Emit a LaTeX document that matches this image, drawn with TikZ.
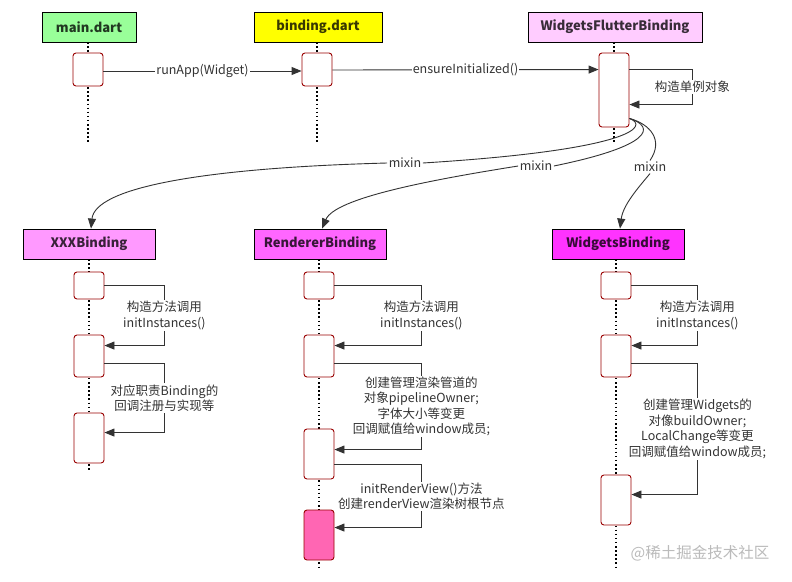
\documentclass[tikz,border=0pt]{standalone}
\usepackage{fontspec}
\setmainfont{Noto Sans CJK SC}
\usetikzlibrary{arrows.meta}
\definecolor{cmain}{HTML}{99FF99}
\definecolor{cbind}{HTML}{FFFF00}
\definecolor{cwfb}{HTML}{FFCCFF}
\definecolor{cxxx}{HTML}{FF99FF}
\definecolor{crend}{HTML}{FF66FF}
\definecolor{cwdg}{HTML}{FF33FF}
\definecolor{actborder}{HTML}{990000}
\definecolor{actpink}{HTML}{FF66B3}
\definecolor{txt}{HTML}{333333}
\definecolor{wm}{HTML}{BBBBBB}
\tikzset{
  hdr/.style={draw=black, line width=0.9pt, minimum height=30pt, inner sep=0pt,
    font=\fontsize{13}{15}\selectfont\bfseries, text=black, text opacity=0.78},
  act/.style={draw=actborder, line width=0.9pt, fill=white, rounded corners=3pt,
    minimum width=30pt, inner sep=0pt},
  life/.style={line width=1.5pt, dash pattern=on 1.5pt off 2.6pt, black},
  msg/.style={draw=txt, line width=0.9pt, -{Triangle[length=10pt,width=8pt]}},
  lab/.style={fill=white, text=txt, inner sep=1pt, align=center,
    font=\fontsize{12.5}{15.5}\selectfont},
  mixlab/.style={fill=white, text=txt, inner sep=1.5pt,
    font=\fontsize{12.5}{15}\selectfont}
}
\begin{document}
\begin{tikzpicture}[x=1pt,y=-1pt]
\useasboundingbox (0,0) rectangle (792,581);
\fill[white] (0,0) rectangle (792,581);

% headers
\node[hdr, fill=cmain, minimum width=94pt] (main) at (89,27) {main.dart};
\node[hdr, fill=cbind, minimum width=128pt] (bind) at (318,27) {binding.dart};
\node[hdr, fill=cwfb, minimum width=174pt] (wfb) at (615,27) {WidgetsFlutterBinding};
\node[hdr, fill=cxxx, minimum width=132pt] (xxx) at (89,244) {XXXBinding};
\node[hdr, fill=crend, minimum width=132pt] (rend) at (320,244) {RendererBinding};
\node[hdr, fill=cwdg, minimum width=132pt] (wdg) at (618,244) {WidgetsBinding};

% lifeline ends
\coordinate (mainend) at (88,143);
\coordinate (bindend) at (317,143);
\coordinate (wfbend) at (614,143);
\coordinate (xxxend) at (89,470);
\coordinate (rendend) at (319,570);
\coordinate (wdgend) at (616,570);
\draw[life] (88,42) -- (mainend);
\draw[life] (317,42) -- (bindend);
\draw[life] (614,42) -- (wfbend);
\draw[life] (89,259) -- (xxxend);
\draw[life] (319,259) -- (rendend);
\draw[life] (616,259) -- (wdgend);

% activation boxes
\node[act, minimum height=33pt] (ma) at (88,69.5) {};
\node[act, minimum height=33pt] (ba) at (317,69.5) {};
\node[act, minimum height=74pt] (wa) at (614,90) {};
\node[act, minimum height=27pt] (xa1) at (89,285.5) {};
\node[act, minimum height=42pt] (xa2) at (89,356) {};
\node[act, minimum height=50pt] (xa3) at (89,438) {};
\node[act, minimum height=27pt] (ra1) at (319,285.5) {};
\node[act, minimum height=42pt] (ra2) at (319,356) {};
\node[act, minimum height=50pt] (ra3) at (319,454) {};
\node[act, minimum height=50pt, fill=actpink] (ra4) at (319,535) {};
\node[act, minimum height=27pt] (wa1) at (616,285.5) {};
\node[act, minimum height=42pt] (wa2) at (616,356) {};
\node[act, minimum height=50pt] (wa3) at (616,500) {};

% messages
\draw[msg] ([yshift=-1.5]ma.east) -- node[lab]{runApp(Widget)} ([yshift=-1.5]ba.west);
\draw[msg] ([yshift=-0.5]ba.east) -- node[lab]{ensureInitialized()} ([yshift=-17]wa.north west);
\draw[msg] ([yshift=-17]wa.north east) -- ++(63,0) |- node[lab,pos=0.25]{构造单例对象} ([yshift=-52]wa.north east);

% XXXBinding
\draw[msg] (xa1.east) -- ++(60,0) |- node[lab,pos=0.25]{构造方法调用\\initInstances()} ([yshift=-11]xa2.north east);
\draw[msg] ([yshift=-29]xa2.north east) -- ++(60,0) |- node[lab,pos=0.25]{对应职责Binding的\\回调注册与实现等} ([yshift=-20]xa3.north east);

% RendererBinding
\draw[msg] (ra1.east) -- ++(87,0) |- node[lab,pos=0.25]{构造方法调用\\initInstances()} ([yshift=-11]ra2.north east);
\draw[msg] ([yshift=-29]ra2.north east) -- ++(87,0) |- node[lab,pos=0.25]{创建管理渲染管道的\\对象pipelineOwner;\\字体大小等变更\\回调赋值给window成员;} ([yshift=-21]ra3.north east);
\draw[msg] ([yshift=-36]ra3.north east) -- ++(87,0) |- node[lab,pos=0.25]{initRenderView()方法\\创建renderView渲染树根节点} ([yshift=-18]ra4.north east);

% WidgetsBinding
\draw[msg] (wa1.east) -- ++(66,0) |- node[lab,pos=0.25]{构造方法调用\\initInstances()} ([yshift=-11]wa2.north east);
\draw[msg] ([yshift=-29]wa2.north east) -- ++(66,0) |- node[lab,pos=0.25]{创建管理Widgets的\\对像buildOwner;\\LocalChange等变更\\回调赋值给window成员;} ([yshift=-20]wa3.north east);

% mixin curves
\node[mixlab] (mx1) at (405,163) {mixin};
\node[mixlab] (mx2) at (536,166) {mixin};
\node[mixlab] (mx3) at (650,167) {mixin};
\draw[draw=txt, line width=0.9pt] ([yshift=9]wa.south east) .. controls (650,126) and (632,150) .. (mx1.east);
\draw[msg] (mx1.west) .. controls (200,168) and (95,188) .. ([xshift=2]xxx.north);
\draw[draw=txt, line width=0.9pt] ([yshift=9]wa.south east) .. controls (656,127) and (652,146) .. (mx2.east);
\draw[msg] (mx2.west) .. controls (430,180) and (335,198) .. ([xshift=2]rend.north);
\draw[draw=txt, line width=0.9pt] ([yshift=9]wa.south east) .. controls (650,124) and (664,140) .. (mx3.north);
\draw[msg] (mx3.south) .. controls (638,188) and (623,205) .. ([xshift=2]wdg.north);

% watermark
\node[text=wm, font=\fontsize{15.5}{17}\selectfont, inner sep=0pt] (wmk) at (700,553) {@稀土掘金技术社区};
\end{tikzpicture}
\end{document}
